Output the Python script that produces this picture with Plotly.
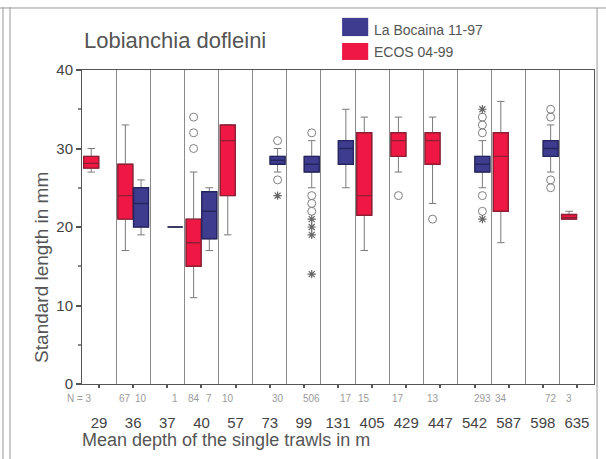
import plotly.graph_objects as go

# ---------------- data ----------------
depths = ["29", "36", "37", "40", "57", "73", "99", "131", "405", "429", "447", "542", "587", "598", "635"]

# ECOS 04-99 (red) : category index, five-number summaries, N
ecos_cat = [0, 1, 3, 4, 8, 9, 10, 12, 14]
ecos_lf = [27, 17, 11, 19, 17, 27, 23, 18, 21]
ecos_q1 = [27.5, 21, 15, 24, 21.5, 29, 28, 22, 21]
ecos_med = [28.1, 24, 18, 31, 24, 31, 31, 29, 21.2]
ecos_q3 = [29, 28, 21, 33, 32, 32, 32, 32, 21.6]
ecos_uf = [30, 33, 27, 33, 34, 34, 34, 36, 22]
ecos_n = [3, 67, 84, 10, 15, 17, 13, 34, 3]
ecos_circ_cat = [3, 3, 3, 9, 10]
ecos_circ_val = [30, 32, 34, 24, 21]

# La Bocaina 11-97 (blue)
boc_cat = [1, 2, 3, 5, 6, 7, 11, 13]
boc_lf = [19, 20, 17, 27, 25, 25, 25, 27]
boc_q1 = [20, 20, 18.5, 28, 27, 28, 27, 29]
boc_med = [23, 20, 22, 28.5, 28, 30, 28, 30]
boc_q3 = [25, 20, 24.5, 29, 29, 31, 29, 31]
boc_uf = [26, 20, 25, 30, 31, 35, 31, 33]
boc_n = [10, 1, 7, 30, 506, 17, 293, 72]
boc_circ_cat = [5, 5, 6, 6, 6, 6, 11, 11, 11, 11, 11, 13, 13, 13, 13]
boc_circ_val = [31, 26, 32, 24, 23, 22, 32, 33, 34, 24, 22, 35, 34, 26, 25]
boc_star_cat = [5, 6, 6, 6, 6, 11, 11]
boc_star_val = [24, 21, 20, 19, 14, 35, 21]

# ---------------- style ----------------
RED = "#ef1743"
RED_LINE = "#8c1f33"
BLUE = "#3d3c8e"
BLUE_LINE = "#25245e"
WHISK = "#7a7a7a"
OUTL = "#808080"
OFF = 0.23
BW = 0.44
FONT = "Liberation Sans, Arial, sans-serif"

red_x = [c - OFF for c in ecos_cat]
blue_x = [c + OFF for c in boc_cat]

fig = go.Figure()

def add_series(xs, lf, q1, med, q3, uf, fill, line):
    # whiskers (gray)
    fig.add_trace(go.Box(x=xs, lowerfence=lf, q1=q1, median=med, q3=q3, upperfence=uf,
                         width=BW, whiskerwidth=0.5, fillcolor="rgba(0,0,0,0)",
                         line=dict(color=WHISK, width=1), hoverinfo="skip", showlegend=False))
    # coloured box
    fig.add_trace(go.Box(x=xs, lowerfence=q1, q1=q1, median=med, q3=q3, upperfence=q3,
                         width=BW, whiskerwidth=0, fillcolor=fill,
                         line=dict(color=line, width=1.4), hoverinfo="skip", showlegend=False))

add_series(red_x, ecos_lf, ecos_q1, ecos_med, ecos_q3, ecos_uf, RED, RED_LINE)
add_series(blue_x, boc_lf, boc_q1, boc_med, boc_q3, boc_uf, BLUE, BLUE_LINE)

fig.add_trace(go.Scatter(x=[c - OFF for c in ecos_circ_cat], y=ecos_circ_val, mode="markers",
                         marker=dict(symbol="circle-open", size=8, color=OUTL, line=dict(width=1)),
                         hoverinfo="skip", showlegend=False))
fig.add_trace(go.Scatter(x=[c + OFF for c in boc_circ_cat], y=boc_circ_val, mode="markers",
                         marker=dict(symbol="circle-open", size=8, color=OUTL, line=dict(width=1)),
                         hoverinfo="skip", showlegend=False))
fig.add_trace(go.Scatter(x=[c + OFF for c in boc_star_cat], y=boc_star_val, mode="markers",
                         marker=dict(symbol="asterisk-open", size=7, color="#666", line=dict(width=1.2)),
                         hoverinfo="skip", showlegend=False))

annotations = []
# N labels
for i, (x, n) in enumerate(zip(red_x, ecos_n)):
    txt = "N = " + str(n) if i == 0 else str(n)
    annotations.append(dict(x=x + (0.08 if i == 0 else 0), xref="x", y=-0.047, yref="paper",
                            text=txt, showarrow=False, xanchor="right" if i == 0 else "center",
                            yanchor="middle", font=dict(size=10, color="#9a9a9a", family=FONT)))
for x, n in zip(blue_x, boc_n):
    annotations.append(dict(x=x, xref="x", y=-0.047, yref="paper", text=str(n), showarrow=False,
                            yanchor="middle", font=dict(size=10, color="#9a9a9a", family=FONT)))

# title, axis titles
annotations.append(dict(x=0.0, y=1.0955, xref="paper", yref="paper", text="Lobianchia dofleini",
                        showarrow=False, xanchor="left", yanchor="middle",
                        font=dict(size=22, color="#555", family=FONT)))
annotations.append(dict(x=-0.004, y=-0.178, xref="paper", yref="paper",
                        text="Mean depth of the single trawls in m",
                        showarrow=False, xanchor="left", yanchor="middle",
                        font=dict(size=18, color="#555", family=FONT)))
annotations.append(dict(x=-0.078, y=0.37, xref="paper", yref="paper", text="Standard length in mm",
                        showarrow=False, textangle=-90, xanchor="center", yanchor="middle",
                        font=dict(size=19, color="#555", family=FONT)))
# legend
annotations.append(dict(x=0.566, y=1.127, xref="paper", yref="paper", text="La Bocaina 11-97",
                        showarrow=False, xanchor="left", yanchor="middle",
                        font=dict(size=14, color="#555", family=FONT)))
annotations.append(dict(x=0.566, y=1.057, xref="paper", yref="paper", text="ECOS 04-99",
                        showarrow=False, xanchor="left", yanchor="middle",
                        font=dict(size=14, color="#555", family=FONT)))

shapes = [
    dict(type="rect", xref="paper", yref="paper", x0=0.508, x1=0.559, y0=1.108, y1=1.166,
         fillcolor=BLUE, line=dict(width=0)),
    dict(type="rect", xref="paper", yref="paper", x0=0.508, x1=0.559, y0=1.032, y1=1.086,
         fillcolor=RED, line=dict(width=0)),
    # outer frame of the picture
    dict(type="line", xref="paper", yref="paper", x0=-0.1543, x1=-0.1543, y0=-0.25, y1=1.2,
         line=dict(color="#999", width=1)),
    dict(type="line", xref="paper", yref="paper", x0=-0.1406, x1=-0.1406, y0=-0.25, y1=1.2,
         line=dict(color="#999", width=1)),
    dict(type="line", xref="paper", yref="paper", x0=-0.17, x1=1.03, y0=1.1975, y1=1.1975,
         line=dict(color="#999", width=1)),
    dict(type="line", xref="paper", yref="paper", x0=1.0059, x1=1.0059, y0=-0.25, y1=1.1975,
         line=dict(color="#999", width=1)),
]

fig.update_layout(
    width=606, height=459, autosize=False,
    margin=dict(l=82, r=12, t=70, b=75),
    paper_bgcolor="white", plot_bgcolor="white",
    boxmode="overlay", showlegend=False,
    font=dict(family=FONT, color="#444"),
    annotations=annotations, shapes=shapes,
    xaxis=dict(range=[-0.5, 14.5], tickmode="array", tickvals=list(range(len(depths))),
               ticktext=depths, ticks="outside", ticklen=3, tickwidth=2, tickcolor="#555",
               showline=True, linecolor="#555", linewidth=1, mirror=True,
               showgrid=False, zeroline=False, ticklabelstandoff=22,
               tickfont=dict(size=15, color="#444", family=FONT),
               minor=dict(tick0=0.5, dtick=1, showgrid=True, gridcolor="#8a8a8a", gridwidth=1, ticks="")),
    yaxis=dict(range=[0, 40], tickmode="array", tickvals=[0, 10, 20, 30, 40],
               ticks="outside", ticklen=5, tickcolor="#555", tickwidth=1.5,
               showline=True, linecolor="#555", linewidth=1, mirror=True,
               showgrid=False, zeroline=False,
               tickfont=dict(size=15, color="#444", family=FONT),
               minor=dict(dtick=5, ticks="outside", ticklen=3, tickcolor="#888", showgrid=False)),
)

fig.write_html("out.html", config={"displayModeBar": False},
               post_script="document.body.style.margin='0';document.body.style.padding='0';")
